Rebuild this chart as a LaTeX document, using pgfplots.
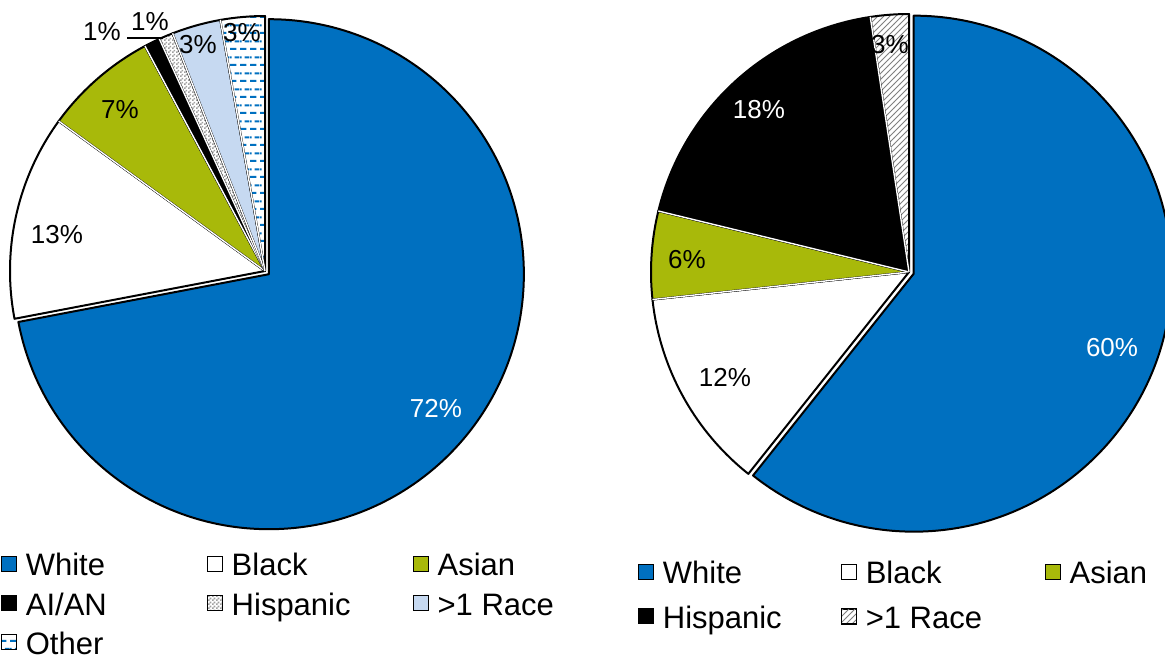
\documentclass[border=0pt]{standalone}
\usepackage{fontspec}
\setmainfont{Liberation Sans}
\usepackage{pgfplots}
\pgfplotsset{compat=1.18}
\usepackage{pgfplotstable}
\usetikzlibrary{patterns,patterns.meta}

\definecolor{cblue}{HTML}{0070C0}
\definecolor{casian}{RGB}{168,185,10}
\definecolor{clight}{HTML}{C6D9F1}

\tikzdeclarepattern{
  name=hdash, type=uncolored,
  bounding box={(0pt,0pt) and (5pt,8pt)},
  tile size={(5pt,8pt)},
  code={
    \pgfpathrectangle{\pgfpoint{0pt}{1.6pt}}{\pgfpoint{3.4pt}{1.1pt}}
    \pgfpathrectangle{\pgfpoint{2.5pt}{5.6pt}}{\pgfpoint{2.5pt}{1.1pt}}
    \pgfpathrectangle{\pgfpoint{0pt}{5.6pt}}{\pgfpoint{0.9pt}{1.1pt}}
    \pgfusepath{fill}
  }
}
\tikzdeclarepattern{
  name=checker, type=uncolored,
  bounding box={(0pt,0pt) and (2pt,2pt)},
  tile size={(2pt,2pt)},
  code={
    \pgfpathrectangle{\pgfpoint{0pt}{0pt}}{\pgfpoint{1pt}{1pt}}
    \pgfpathrectangle{\pgfpoint{1pt}{1pt}}{\pgfpoint{1pt}{1pt}}
    \pgfusepath{fill}
  }
}

\tikzset{
  lslice0/.style={fill=cblue},
  lslice1/.style={fill=white},
  lslice2/.style={fill=casian},
  lslice3/.style={fill=black},
  lslice4/.style={preaction={fill=white},pattern=checker,pattern color=gray!75},
  lslice5/.style={fill=clight},
  lslice6/.style={preaction={fill=white},pattern=hdash,pattern color=cblue},
  rslice0/.style={fill=cblue},
  rslice1/.style={fill=white},
  rslice2/.style={fill=casian},
  rslice3/.style={fill=black},
  rslice4/.style={preaction={fill=white},pattern=north east lines,pattern color=gray},
}

\pgfplotstableread{
cat value
White 72.0
Black 13.0
Asian 7.2
AIAN 1.0
Hispanic 0.9
MultiRace 3.1
Other 2.8
}\leftdata

\pgfplotstableread{
cat value
White 60.7
Black 12.6
Asian 5.5
Hispanic 18.8
MultiRace 2.4
}\rightdata

\newcommand\drawpie[5]{%
  \pgfmathsetmacro\angA{90}%
  \pgfplotsforeachungrouped \i in {0,...,#2}{%
    \pgfplotstablegetelem{\i}{value}\of#1%
    \pgfmathsetmacro\angB{\angA-3.6*\pgfplotsretval}%
    \pgfmathsetmacro\angM{(\angA+\angB)/2}%
    \pgfmathsetmacro\ex{(\i==0)*#5}%
    \pgfmathsetmacro\cx{\ex*cos(\angM)}%
    \pgfmathsetmacro\cy{\ex*sin(\angM)}%
    \pgfmathsetmacro\sx{\cx+#3*cos(\angA)}%
    \pgfmathsetmacro\sy{\cy+#3*sin(\angA)}%
    \pgfmathsetmacro\rr{#3*0.5}%
    \edef\temp{\noexpand\path[#4\i,draw=black,line width=1pt,line join=round] (axis cs:\cx,\cy) -- (axis cs:\sx,\sy) arc[start angle=\angA, end angle=\angB, radius=\rr pt] -- cycle;}%
    \temp
    \ifnum\i>1
      \pgfmathsetmacro\wx{#3*cos(\angA)}\pgfmathsetmacro\wy{#3*sin(\angA)}%
      \edef\temp{\noexpand\draw[white,line width=0.7pt] (axis cs:0,0) -- (axis cs:\wx,\wy);}%
      \temp
    \fi
    \global\let\angA\angB
  }%
}

\begin{document}
\begin{tikzpicture}
\useasboundingbox (0pt,0pt) rectangle (582.5pt,-330pt);
\clip (0pt,0pt) rectangle (582.5pt,-330pt);
\coordinate (cL) at (132.5pt,-135.5pt);
\coordinate (cR) at (454.5pt,-136pt);

\begin{axis}[at={(cL)},anchor=center,x=0.5pt,y=0.5pt,
  xmin=-270,xmax=270,ymin=-270,ymax=270,hide axis,clip=false,
  legend columns=3, legend cell align=left,
  legend image code/.code={\draw[#1,draw=black,line width=0.5pt] (0pt,-2pt) rectangle (7.5pt,5.5pt); \path (12pt,0pt);},
  legend style={at={(0.011,-0.022)},anchor=north west,draw=none,fill=none,inner sep=0pt,outer sep=0pt,
    row sep=5.1pt,column sep=0pt,font=\fontsize{15.5pt}{18pt}\selectfont,
    nodes={inner sep=0pt,outer sep=0pt,text height=11.5pt,text depth=3pt}}]
\drawpie{\leftdata}{6}{255}{lslice}{5}
\addlegendimage{lslice0}\addlegendentry{\makebox[90.5pt][l]{White}}
\addlegendimage{lslice1}\addlegendentry{\makebox[90.5pt][l]{Black}}
\addlegendimage{lslice2}\addlegendentry{Asian}
\addlegendimage{lslice3}\addlegendentry{\makebox[90.5pt][l]{AI/AN}}
\addlegendimage{lslice4}\addlegendentry{\makebox[90.5pt][l]{Hispanic}}
\addlegendimage{lslice5}\addlegendentry{>1 Race}
\addlegendimage{lslice6}\addlegendentry{\makebox[90.5pt][l]{Other}}
\end{axis}

\begin{axis}[at={(cR)},anchor=center,x=0.5pt,y=0.5pt,
  xmin=-270,xmax=270,ymin=-270,ymax=270,hide axis,clip=false,
  legend columns=3, legend cell align=left,
  legend image code/.code={\draw[#1,draw=black,line width=0.5pt] (0pt,-2pt) rectangle (7.5pt,5.5pt); \path (12pt,0pt);},
  legend style={at={(-0.0019,-0.035)},anchor=north west,draw=none,fill=none,inner sep=0pt,outer sep=0pt,
    row sep=7.75pt,column sep=0pt,font=\fontsize{15.5pt}{18pt}\selectfont,
    nodes={inner sep=0pt,outer sep=0pt,text height=11.5pt,text depth=3pt}}]
\drawpie{\rightdata}{4}{258}{rslice}{5}
\addlegendimage{rslice0}\addlegendentry{\makebox[89pt][l]{White}}
\addlegendimage{rslice1}\addlegendentry{\makebox[89.5pt][l]{Black}}
\addlegendimage{rslice2}\addlegendentry{Asian}
\addlegendimage{rslice3}\addlegendentry{\makebox[89pt][l]{Hispanic}}
\addlegendimage{rslice4}\addlegendentry{\makebox[89.5pt][l]{>1 Race}}
\end{axis}

\begin{scope}[x=0.5pt,y=-0.5pt,font=\fontsize{13pt}{15.6pt}\selectfont]
\node[text=white] at (436,408) {72\%};
\node at (57,235) {13\%};
\node at (120,110) {7\%};
\node at (102,32) {1\%};
\node at (150,22) {1\%};
\node at (198,45) {3\%};
\node at (242,33) {3\%};
\draw[line width=0.6pt] (127,38) -- (163,38);
\node[text=white] at (1112,348) {60\%};
\node at (725,377) {12\%};
\node at (687,260) {6\%};
\node[text=white] at (759,110) {18\%};
\node at (890,45) {3\%};
\end{scope}
\end{tikzpicture}
\end{document}
